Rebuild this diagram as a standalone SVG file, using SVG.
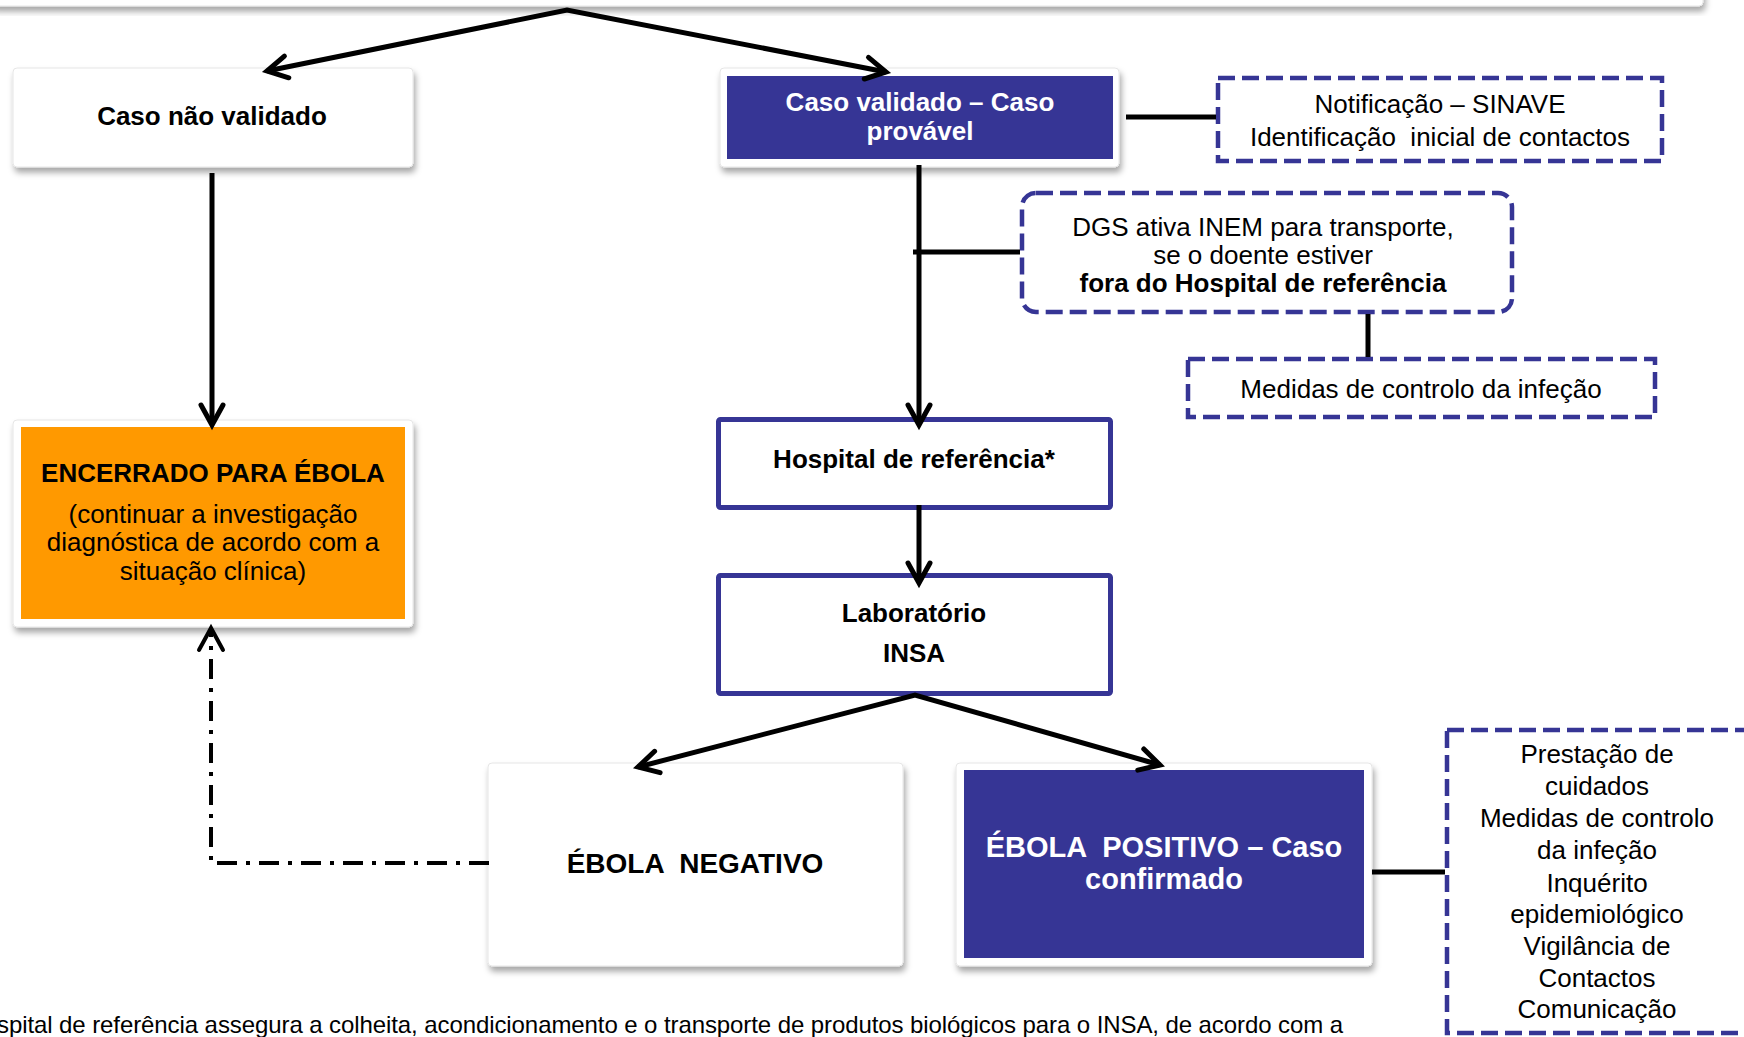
<svg xmlns="http://www.w3.org/2000/svg" width="1744" height="1037" viewBox="0 0 1744 1037">
<defs>
<filter id="sh" x="-10%" y="-10%" width="120%" height="130%">
<feDropShadow dx="2" dy="5" stdDeviation="3" flood-color="#000" flood-opacity="0.35"/>
</filter>
<style>
text{font-family:"Liberation Sans",Arial,sans-serif;font-size:26px;fill:#000;text-anchor:middle;white-space:pre}
.b{font-weight:bold}
.w{fill:#fff}
.frame{fill:#fff;stroke:#e6e6e6;stroke-width:1;filter:url(#sh)}
.blue{fill:#363595}
.solid{fill:#fff;stroke:#363595;stroke-width:5}
.dash{fill:#fff;stroke:#363595;stroke-width:4.5;stroke-dasharray:17 7}
.ln{fill:none;stroke:#000;stroke-width:5}
.head{fill:none;stroke:#000;stroke-width:5;stroke-linecap:round;stroke-linejoin:miter}
.dd{fill:none;stroke:#000;stroke-width:4;stroke-dasharray:20 9 4 9}
</style>
</defs>

<g id="top">
<rect class="frame" x="-10" y="-40" width="1713" height="46" rx="4"/>
</g>

<g id="caso-nao-validado">
<rect class="frame" x="13" y="68" width="400" height="99" rx="4"/>
<text class="b" x="212" y="125">Caso não validado</text>
</g>

<g id="caso-validado">
<rect class="frame" x="720" y="68" width="399" height="99" rx="4"/>
<rect class="blue" x="727" y="76" width="386" height="83"/>
<text class="b w" x="920" y="111">Caso validado – Caso</text>
<text class="b w" x="920" y="140">provável</text>
</g>

<g id="notificacao">
<rect class="dash" x="1218" y="78" width="444" height="83"/>
<text x="1440" y="113">Notificação – SINAVE</text>
<text x="1440" y="146">Identificação  inicial de contactos</text>
</g>

<g id="dgs">
<rect class="dash" x="1022" y="193" width="490" height="119" rx="14"/>
<text x="1263" y="236">DGS ativa INEM para transporte,</text>
<text x="1263" y="264">se o doente estiver</text>
<text class="b" x="1263" y="292">fora do Hospital de referência</text>
</g>

<g id="medidas">
<rect class="dash" x="1188" y="359" width="467" height="58"/>
<text x="1421" y="398">Medidas de controlo da infeção</text>
</g>

<g id="encerrado">
<rect class="frame" x="13" y="420" width="400" height="207" rx="4"/>
<rect x="21" y="427" width="384" height="192" fill="#ff9900"/>
<text class="b" x="213" y="482">ENCERRADO PARA ÉBOLA</text>
<text x="213" y="523">(continuar a investigação</text>
<text x="213" y="551">diagnóstica de acordo com a</text>
<text x="213" y="580">situação clínica)</text>
</g>

<g id="hospital">
<rect class="solid" x="718.5" y="419.5" width="392" height="88" rx="2"/>
<text class="b" x="914" y="468">Hospital de referência*</text>
</g>

<g id="laboratorio">
<rect class="solid" x="718.5" y="575.5" width="392" height="118" rx="2"/>
<text class="b" x="914" y="622">Laboratório</text>
<text class="b" x="914" y="662">INSA</text>
</g>

<g id="ebola-negativo">
<rect class="frame" x="488" y="763" width="415" height="203" rx="4"/>
<text class="b" x="695" y="873" style="font-size:28px">ÉBOLA  NEGATIVO</text>
</g>

<g id="ebola-positivo">
<rect class="frame" x="956" y="763" width="416" height="203" rx="4"/>
<rect class="blue" x="964" y="770" width="400" height="188"/>
<text class="b w" x="1164" y="857" style="font-size:29px">ÉBOLA  POSITIVO – Caso</text>
<text class="b w" x="1164" y="889" style="font-size:29px">confirmado</text>
</g>

<g id="acoes">
<rect class="dash" x="1447" y="730" width="330" height="303"/>
<text x="1597" y="763">Prestação de</text>
<text x="1597" y="795">cuidados</text>
<text x="1597" y="827">Medidas de controlo</text>
<text x="1597" y="859">da infeção</text>
<text x="1597" y="892">Inquérito</text>
<text x="1597" y="923">epidemiológico</text>
<text x="1597" y="955">Vigilância de</text>
<text x="1597" y="987">Contactos</text>
<text x="1597" y="1018">Comunicação</text>
</g>

<g id="nota">
<text x="-3" y="1033" style="font-size:24px;text-anchor:start" textLength="1346" lengthAdjust="spacing">spital de referência assegura a colheita, acondicionamento e o transporte de produtos biológicos para o INSA, de acordo com a</text>
</g>

<g id="connectors">
<polyline class="ln" points="267,71 567,10 886,72"/>
<polyline class="head" points="288.8,77.8 267,71 284.4,56.2"/>
<polyline class="head" points="864.3,79 886,72 868.5,57.4"/>
<path class="ln" d="M212,173 L212,423"/>
<polyline class="head" points="201,405 212,425 223,405"/>
<path class="ln" d="M919,165 L919,423"/>
<polyline class="head" points="908,405 919,425 930,405"/>
<path class="ln" d="M913,252 L1020,252"/>
<path class="ln" d="M1126,117 L1216,117"/>
<path class="ln" d="M1368,314 L1368,357"/>
<path class="ln" d="M919,505 L919,581"/>
<polyline class="head" points="908,563 919,583 930,563"/>
<polyline class="ln" points="638,767 915,695 1160,765"/>
<polyline class="head" points="660.1,772.6 638,767 654.6,751.3"/>
<polyline class="head" points="1137.8,770.1 1160,765 1143.8,748.9"/>
<path class="ln" d="M1372,872 L1445,872"/>
<path class="dd" d="M489,863 L211,863 L211,632"/>
<path d="M199,650 L211,628 L223,650" fill="none" stroke="#000" stroke-width="4" stroke-linecap="round"/>
</g>
</svg>
